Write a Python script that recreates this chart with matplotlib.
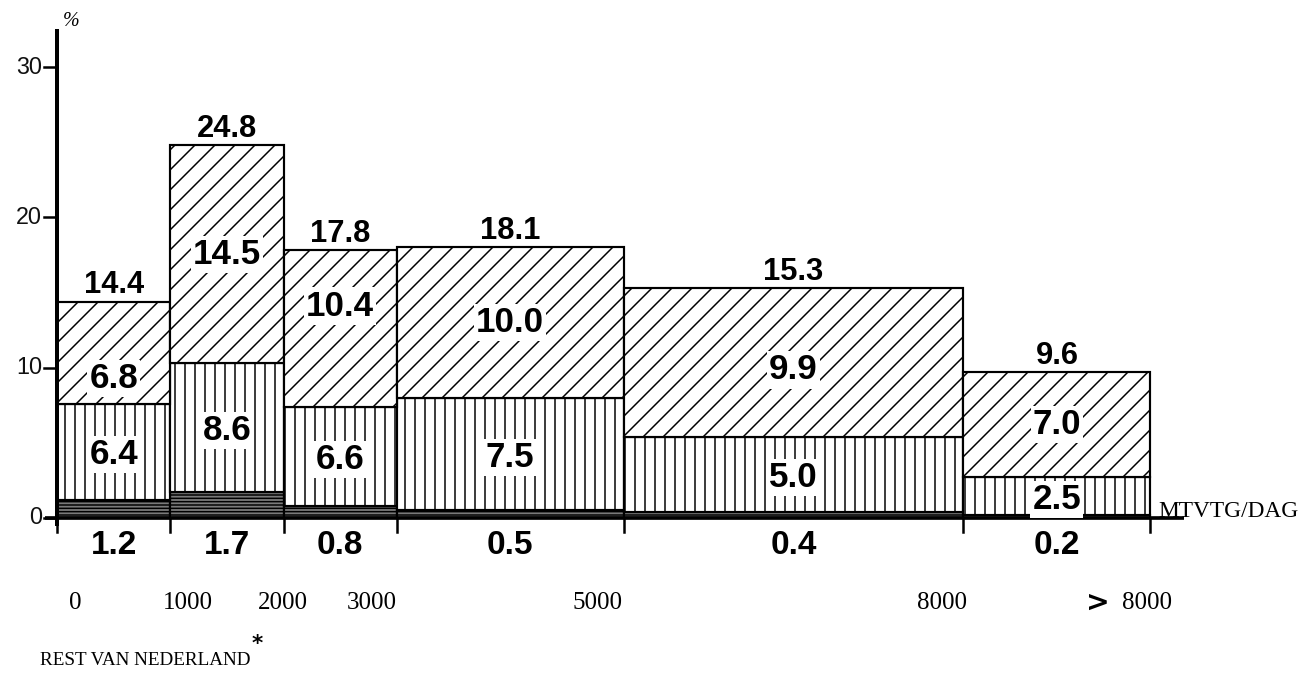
# Stacked variable-width bars: share per traffic-intensity class (rest of NL)
import matplotlib.pyplot as plt
import numpy as np

edges = [0, 1000, 2000, 3000, 5000, 8000, 9650]   # last class (>8000) drawn open-ended
bottom_part = [1.2, 1.7, 0.8, 0.5, 0.4, 0.2]
middle_part = [6.4, 8.6, 6.6, 7.5, 5.0, 2.5]
top_part = [6.8, 14.5, 10.4, 10.0, 9.9, 7.0]
totals = [14.4, 24.8, 17.8, 18.1, 15.3, 9.6]
x_labels = ["0", "1000", "2000", "3000", "5000", "8000", "8000"]
y_ticks = [0, 10, 20, 30]

# where the typed x labels sit (data units), they are not under the ticks exactly
x_label_pos = [159, 1156, 1995, 2780, 4766, 7811, 9620]
# small hand nudges of the labels in the hatched top parts
top_nudge = [-1.7, 0, 1.5, 0, -0.5, 0]

DPI = 120
fig = plt.figure(figsize=(1302 / DPI, 678 / DPI), dpi=DPI)
ax = fig.add_axes([0, 0, 1, 1])
ax.set_xlim(-503, 10988)
ax.set_ylim(-10.645, 34.46)
ax.axis("off")
plt.rcParams["hatch.linewidth"] = 0.9

left = np.array(edges[:-1])
width = np.diff(edges)
centers = left + width / 2
b = np.array(bottom_part)
m = np.array(middle_part)
t = np.array(top_part)

ax.bar(left, b, width, align="edge", facecolor="#7a7a7a", edgecolor="black",
       hatch="------", linewidth=1.3, zorder=2)
ax.bar(left, m, width, bottom=b, align="edge", facecolor="white", edgecolor="black",
       hatch="||", linewidth=1.3, zorder=2)
ax.bar(left, t, width, bottom=b + m, align="edge", facecolor="white", edgecolor="black",
       hatch="//", linewidth=1.3, zorder=2)

box = dict(boxstyle="square,pad=0.06", facecolor="white", edgecolor="none")
sans = "Liberation Sans"

for i in range(len(centers)):
    ax.text(centers[i], b[i] + m[i] + t[i] + 0.1, f"{totals[i]:.1f}", ha="center",
            va="bottom", zorder=4, family=sans, fontweight="bold", fontsize=18.5)
    ax.text(centers[i], b[i] + m[i] + t[i] / 2 + top_nudge[i], f"{top_part[i]:.1f}",
            ha="center", va="center", bbox=box, zorder=4, family=sans,
            fontweight="bold", fontsize=21)
    ax.text(centers[i], b[i] + m[i] / 2 - 0.2, f"{middle_part[i]:.1f}", ha="center",
            va="center", bbox=box, zorder=4, family=sans, fontweight="bold", fontsize=21)
    ax.text(centers[i], -1.8, f"{bottom_part[i]:.1f}", ha="center", va="center",
            zorder=4, family=sans, fontweight="bold", fontsize=20)

# axes drawn by hand, like the typed original
ax.plot([0, 0], [-0.5, 32.5], color="black", lw=2.4, zorder=3, solid_capstyle="butt")
ax.plot([-106, 9950], [0, 0], color="black", lw=2.2, zorder=3, solid_capstyle="butt")
for e in edges:
    ax.plot([e, e], [0, -0.95], color="black", lw=1.5, zorder=3)
for y in y_ticks:
    ax.plot([-115, 0], [y, y], color="black", lw=1.5, zorder=3)
    ax.text(-130, y, str(y), ha="right", va="center", family=sans,
            fontsize=14, color="#111111")

ax.text(55, 32.4, "%", ha="left", va="bottom", family="Liberation Serif",
        fontsize=12, style="italic")

for i, lab in enumerate(x_labels):
    ax.text(x_label_pos[i], -5.66, lab, ha="center", va="center",
            family="Liberation Serif", fontsize=15)
ax.text(9294, -5.66, ">", ha="right", va="center",
        family="DejaVu Sans", fontweight="bold", fontsize=17)

ax.text(9718, 0.45, "MTVTG/DAG", ha="left", va="center", family="Liberation Serif",
        fontsize=14)

ax.text(-150, -9.45, "REST VAN NEDERLAND", ha="left", va="center",
        family="Liberation Serif", fontsize=11.5)
ax.text(1720, -8.4, "*", ha="left", va="center", family="DejaVu Sans",
        fontweight="bold", fontsize=13)

plt.savefig("out.png", dpi=DPI)
